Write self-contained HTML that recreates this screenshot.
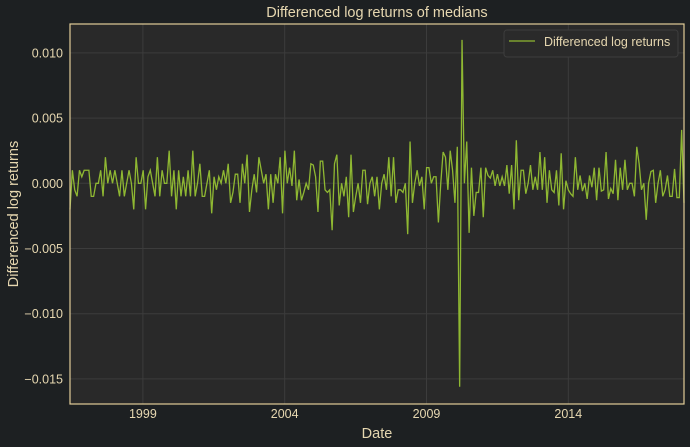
<!DOCTYPE html>
<html><head><meta charset="utf-8"><style>
html,body{margin:0;padding:0;background:#1d2022;overflow:hidden;}
svg{display:block;}
svg text{font-family:"Liberation Sans",sans-serif;fill:#e6d7b0;}
</style></head><body>
<svg id="chart" width="690" height="447">
<rect width="690" height="447" fill="#1d2022"/>
<rect x="70" y="24" width="614" height="380" fill="#292929"/>
<g id="grid"></g>
<g id="ticks"></g>
<polyline id="series" fill="none" stroke="#8fb832" stroke-width="1.3"/>
<rect x="70" y="24" width="614" height="380" fill="none" stroke="#e1cc98" stroke-width="1.2"/>
<text x="377" y="17" font-size="14.5" text-anchor="middle">Differenced log returns of medians</text>
<text x="377" y="438" font-size="14.5" text-anchor="middle">Date</text>
<text transform="translate(18,214) rotate(-90)" font-size="14.5" text-anchor="middle">Differenced log returns</text>
<g>
<rect x="504" y="30" width="174" height="27" rx="3" fill="#2a2a2a" stroke="#3d3d3d"/>
<line x1="509" y1="41" x2="535" y2="41" stroke="#8fb832" stroke-width="1.3"/>
<text x="544" y="46" font-size="12.5">Differenced log returns</text>
</g>
</svg>
<script>
const values = [-2,1,-0.5,-1,1,0.5,1,1,1,-1,-1,0,0,1,-1,2,0,1,0,1,0,-1,1,-1,0,1,0,-2,2,0,0,1,-2,0.5,1,0,-1,2,-1,1,0,0,2.5,-1,1,-2,1,-1,0.5,-1,1,-1,2.5,-1,0,1.5,-1,-1,0,1,-2.3,0.5,-0.5,0.5,
0,1,0,1.5,-1.5,-0.7,0.7,0.7,-1.5,1.5,0,2.2,-2.2,-0.5,0.7,-0.7,2,1,0,0.7,-2,0.7,-1.5,0.7,0,2,-2.3,2.5,0,1.2,-0.2,2.5,-1.3,0.3,-1.3,-0.7,0,-0.5,1.5,1.4,0.5,-2.2,1.7,1.7,-0.5,-0.7,-0.5,-3.6,1.5,2.2,-1.7,0,-1,0.5,-2.6,2.2,-2.2,-1,0,-1.5,1.0,1.0,-1.6,0,0.5,
-1,0.5,-2,0,0.7,-0.5,2,-1,2,-1.5,-0.5,-0.5,-0.7,0,-3.9,3.2,-1.5,0,1,-0.2,0.5,-2,1.2,1.2,0,0.5,0.5,-3,0,2.4,2,-0.5,2.5,1,-1.5,2.8,-15.6,11,0,3.2,-3.8,1.2,-2.5,-0.7,-0.7,1.2,-2.6,1.2,0.6,0.4,1,-0.2,0.7,-0.2,0.5,-0.2,1.4,-0.8,1.4,-2,3.3,-1.3,1,1,-0.8,0,1.4,-0.5,0.5,-0.5,2.4,
-0.5,2,-1.5,1,-0.5,-0.7,1,-1.7,2.3,-2,0.2,-0.5,-0.8,-1.0,2,-0.5,0.6,-0.6,0,-1.2,0.6,-0.3,1.2,-1.3,1.2,-0.6,-0.5,2.4,-1.2,-0.4,-0.8,1.8,-1.3,1.2,-0.5,1.8,-0.5,0,0,-1,2.8,1.5,-0.5,0,-2.8,0,0.9,1.0,-1.5,0,1.0,-1,-0.5,0.6,-1,-1,1.1,-1.1,-1.1,4.1,-1.5];
const yTicks = [0.010,0.005,0.000,-0.005,-0.010,-0.015];
const yTickLabels = ["0.010","0.005","0.000","\u22120.005","\u22120.010","\u22120.015"];
const xTicks = [1999,2004,2009,2014];
const xStart = 1996.43, xEnd = 2018.08;
const X0=70,X1=684,Y0=24,Y1=404;
const xs = t => X0 + (t - xStart)/(xEnd - xStart)*(X1-X0);
const ys = v => 183.3 - v/0.005*65.2;
const NS="http://www.w3.org/2000/svg";
const grid=document.getElementById('grid'), ticks=document.getElementById('ticks');
yTicks.forEach((v,i)=>{
 const y=ys(v);
 const l=document.createElementNS(NS,'line');
 l.setAttribute('x1',X0);l.setAttribute('x2',X1);l.setAttribute('y1',y);l.setAttribute('y2',y);
 l.setAttribute('stroke','#3c3c3c');
 
 
 grid.appendChild(l);
 const t=document.createElementNS(NS,'text');
 t.setAttribute('x',63);t.setAttribute('y',y+4.5);t.setAttribute('text-anchor','end');t.setAttribute('font-size','12.5');
 t.textContent=yTickLabels[i];
 
 
 ticks.appendChild(t);
});
xTicks.forEach(v=>{
 const x=xs(v);
 const l=document.createElementNS(NS,'line');
 l.setAttribute('x1',x);l.setAttribute('x2',x);l.setAttribute('y1',Y0);l.setAttribute('y2',Y1);
 l.setAttribute('stroke','#3c3c3c');
 
 
 grid.appendChild(l);
 const t=document.createElementNS(NS,'text');
 t.setAttribute('x',x);t.setAttribute('y',418);t.setAttribute('text-anchor','middle');t.setAttribute('font-size','12.5');
 t.textContent=v;
 
 
 ticks.appendChild(t);
});
const n=values.length;
const pts=values.map((v,i)=>{
 const t=xStart+i*(xEnd-xStart)/(n-1);
 return xs(t).toFixed(2)+','+ys(v/1000).toFixed(2);
}).join(' ');
document.getElementById('series').setAttribute('points',pts);
</script>
</body></html>
